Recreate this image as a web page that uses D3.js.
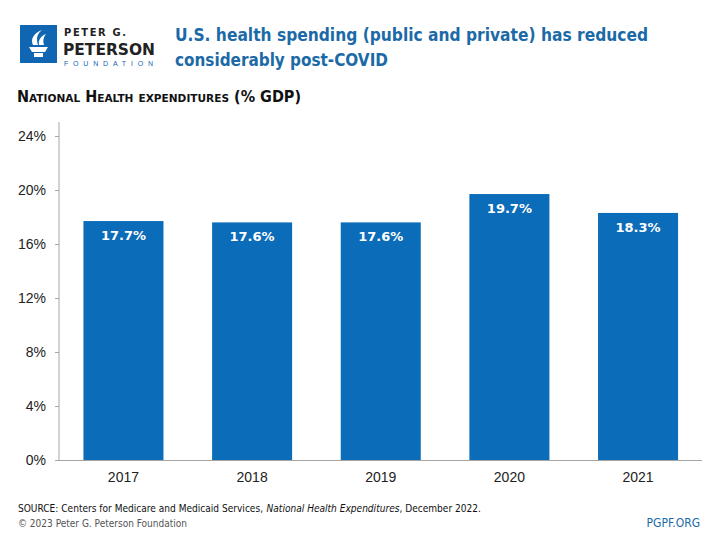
<!DOCTYPE html>
<html><head><meta charset="utf-8">
<script src="https://cdn.jsdelivr.net/npm/d3@7"></script>
<style>
body{margin:0;background:#fff;}
svg{display:block;}
</style></head>
<body>
<svg id="c" width="720" height="540"></svg>
<script>
const years = ["2017","2018","2019","2020","2021"];
const values = [17.7, 17.6, 17.6, 19.7, 18.3];
const yTicks = [0,4,8,12,16,20,24];

const svg = d3.select("#c");
const cond = "'DejaVu Sans Condensed','Liberation Sans Narrow','Roboto',sans-serif";
const blue = "#0b6cb9";

// Logo
const logo = svg.append("g");
logo.append("rect").attr("x",20).attr("y",25).attr("width",37).attr("height",38).attr("fill","#1166b4");
logo.append("path").attr("d","M29,47 L48,47 L45,52 L32,52 Z").attr("fill","#fff");
logo.append("rect").attr("x",34).attr("y",53).attr("width",9).attr("height",4).attr("fill","#fff");
logo.append("path").attr("d","M33,45 C30,39 34,33 42,30 C37,34 36,38 38,45 Z").attr("fill","#fff");
logo.append("path").attr("d","M39,45 C38,40 41,36 46,34 C43,38 43,41 44,45 Z").attr("fill","#fff");
logo.append("text").attr("x",64).attr("y",36).attr("font-family",cond)
  .attr("font-weight","bold").attr("font-size",11).attr("fill","#222").attr("textLength",62).text("PETER G.");
logo.append("text").attr("x",63).attr("y",55).attr("font-family",cond)
  .attr("font-weight","bold").attr("font-size",15.5).attr("fill","#222").attr("textLength",92)
  .attr("lengthAdjust","spacingAndGlyphs").text("PETERSON");
logo.append("text").attr("x",64).attr("y",65.5).attr("font-family","'Liberation Sans',Arial,sans-serif")
  .attr("font-size",7).attr("fill","#1166b4").attr("textLength",89).text("FOUNDATION");

// Title
svg.append("text").attr("x",175).attr("y",41).attr("font-family",cond).attr("font-weight","bold")
  .attr("font-size",18.5).attr("fill","#1b6aa7").attr("textLength",473).attr("lengthAdjust","spacingAndGlyphs")
  .text("U.S. health spending (public and private) has reduced");
svg.append("text").attr("x",175).attr("y",66).attr("font-family",cond).attr("font-weight","bold")
  .attr("font-size",18.5).attr("fill","#1b6aa7").attr("textLength",213).attr("lengthAdjust","spacingAndGlyphs")
  .text("considerably post-COVID");

// Subtitle (small caps)
svg.append("text").attr("x",17).attr("y",102).attr("font-family",cond).attr("font-weight","bold")
  .attr("font-size",15).attr("fill","#111").style("font-variant","small-caps")
  .attr("textLength",284).attr("lengthAdjust","spacingAndGlyphs")
  .text("National Health expenditures (% GDP)");

// Scales
const x = d3.scaleBand().domain(years).range([59,702.5]).paddingInner(0.378).paddingOuter(0.19);
const y = d3.scaleLinear().domain([0,24]).range([460,136]);

// Bars
svg.append("g").selectAll("rect").data(values).join("rect")
  .attr("x",(d,i)=>x(years[i])).attr("width",x.bandwidth())
  .attr("y",d=>y(d)).attr("height",d=>y(0)-y(d)).attr("fill",blue);

// Bar labels
svg.append("g").selectAll("text").data(values).join("text")
  .attr("x",(d,i)=>x(years[i])+x.bandwidth()/2).attr("y",d=>y(d)+19)
  .attr("text-anchor","middle").attr("font-family","'DejaVu Sans',sans-serif").attr("font-weight","bold")
  .attr("font-size",13).attr("fill","#fff").text(d=>d.toFixed(1)+"%");

// Y axis
const yAxis = svg.append("g").attr("transform","translate(59,0)")
  .call(d3.axisLeft(y).tickValues(yTicks).tickFormat(d=>d+"%").tickSize(4).tickPadding(9));
yAxis.select(".domain").attr("stroke","#a6a6a6").attr("d","M0,122V460");
yAxis.selectAll(".tick line").attr("stroke","#a6a6a6");
yAxis.selectAll(".tick text").attr("font-family","'Liberation Sans',Arial,sans-serif").attr("font-size",14).attr("fill","#222");

// X axis
const xAxis = svg.append("g").attr("transform","translate(0,460)")
  .call(d3.axisBottom(x).tickSize(0).tickPadding(12));
xAxis.select(".domain").attr("stroke","#a6a6a6").attr("d","M59,0.5H702");
xAxis.selectAll(".tick text").attr("font-family","'Liberation Sans',Arial,sans-serif").attr("font-size",14).attr("fill","#222");

// Footer: source line in pieces (roman / italic / roman), sized to the reference width
const srcParts = [
  {t:"SOURCE: Centers for Medicare and Medicaid Services,", it:false},
  {t:"National Health Expenditures", it:true},
  {t:", December 2022.", it:false}
];
const gaps = [3.5, 0];
let fs = 11;
const nodes = srcParts.map(p => svg.append("text").attr("y",512).attr("font-family",cond).attr("font-size",fs)
  .attr("fill","#111").attr("font-style",p.it?"italic":"normal").text(p.t));
let total = d3.sum(nodes, n => n.node().getComputedTextLength()) + d3.sum(gaps);
fs = fs * 463 / total;
nodes.forEach(n => n.attr("font-size", fs));
let cx = 18;
nodes.forEach((n,i)=>{ n.attr("x",cx); cx += n.node().getComputedTextLength() + (gaps[i]||0); });

svg.append("text").attr("x",18).attr("y",527).attr("font-family",cond).attr("font-size",11).attr("fill","#555")
  .attr("textLength",169).attr("lengthAdjust","spacingAndGlyphs")
  .text("© 2023 Peter G. Peterson Foundation");
svg.append("text").attr("x",700).attr("y",527).attr("text-anchor","end").attr("font-family",cond).attr("font-size",12).attr("fill","#1b6aa7")
  .text("PGPF.ORG");
</script>
</body></html>
